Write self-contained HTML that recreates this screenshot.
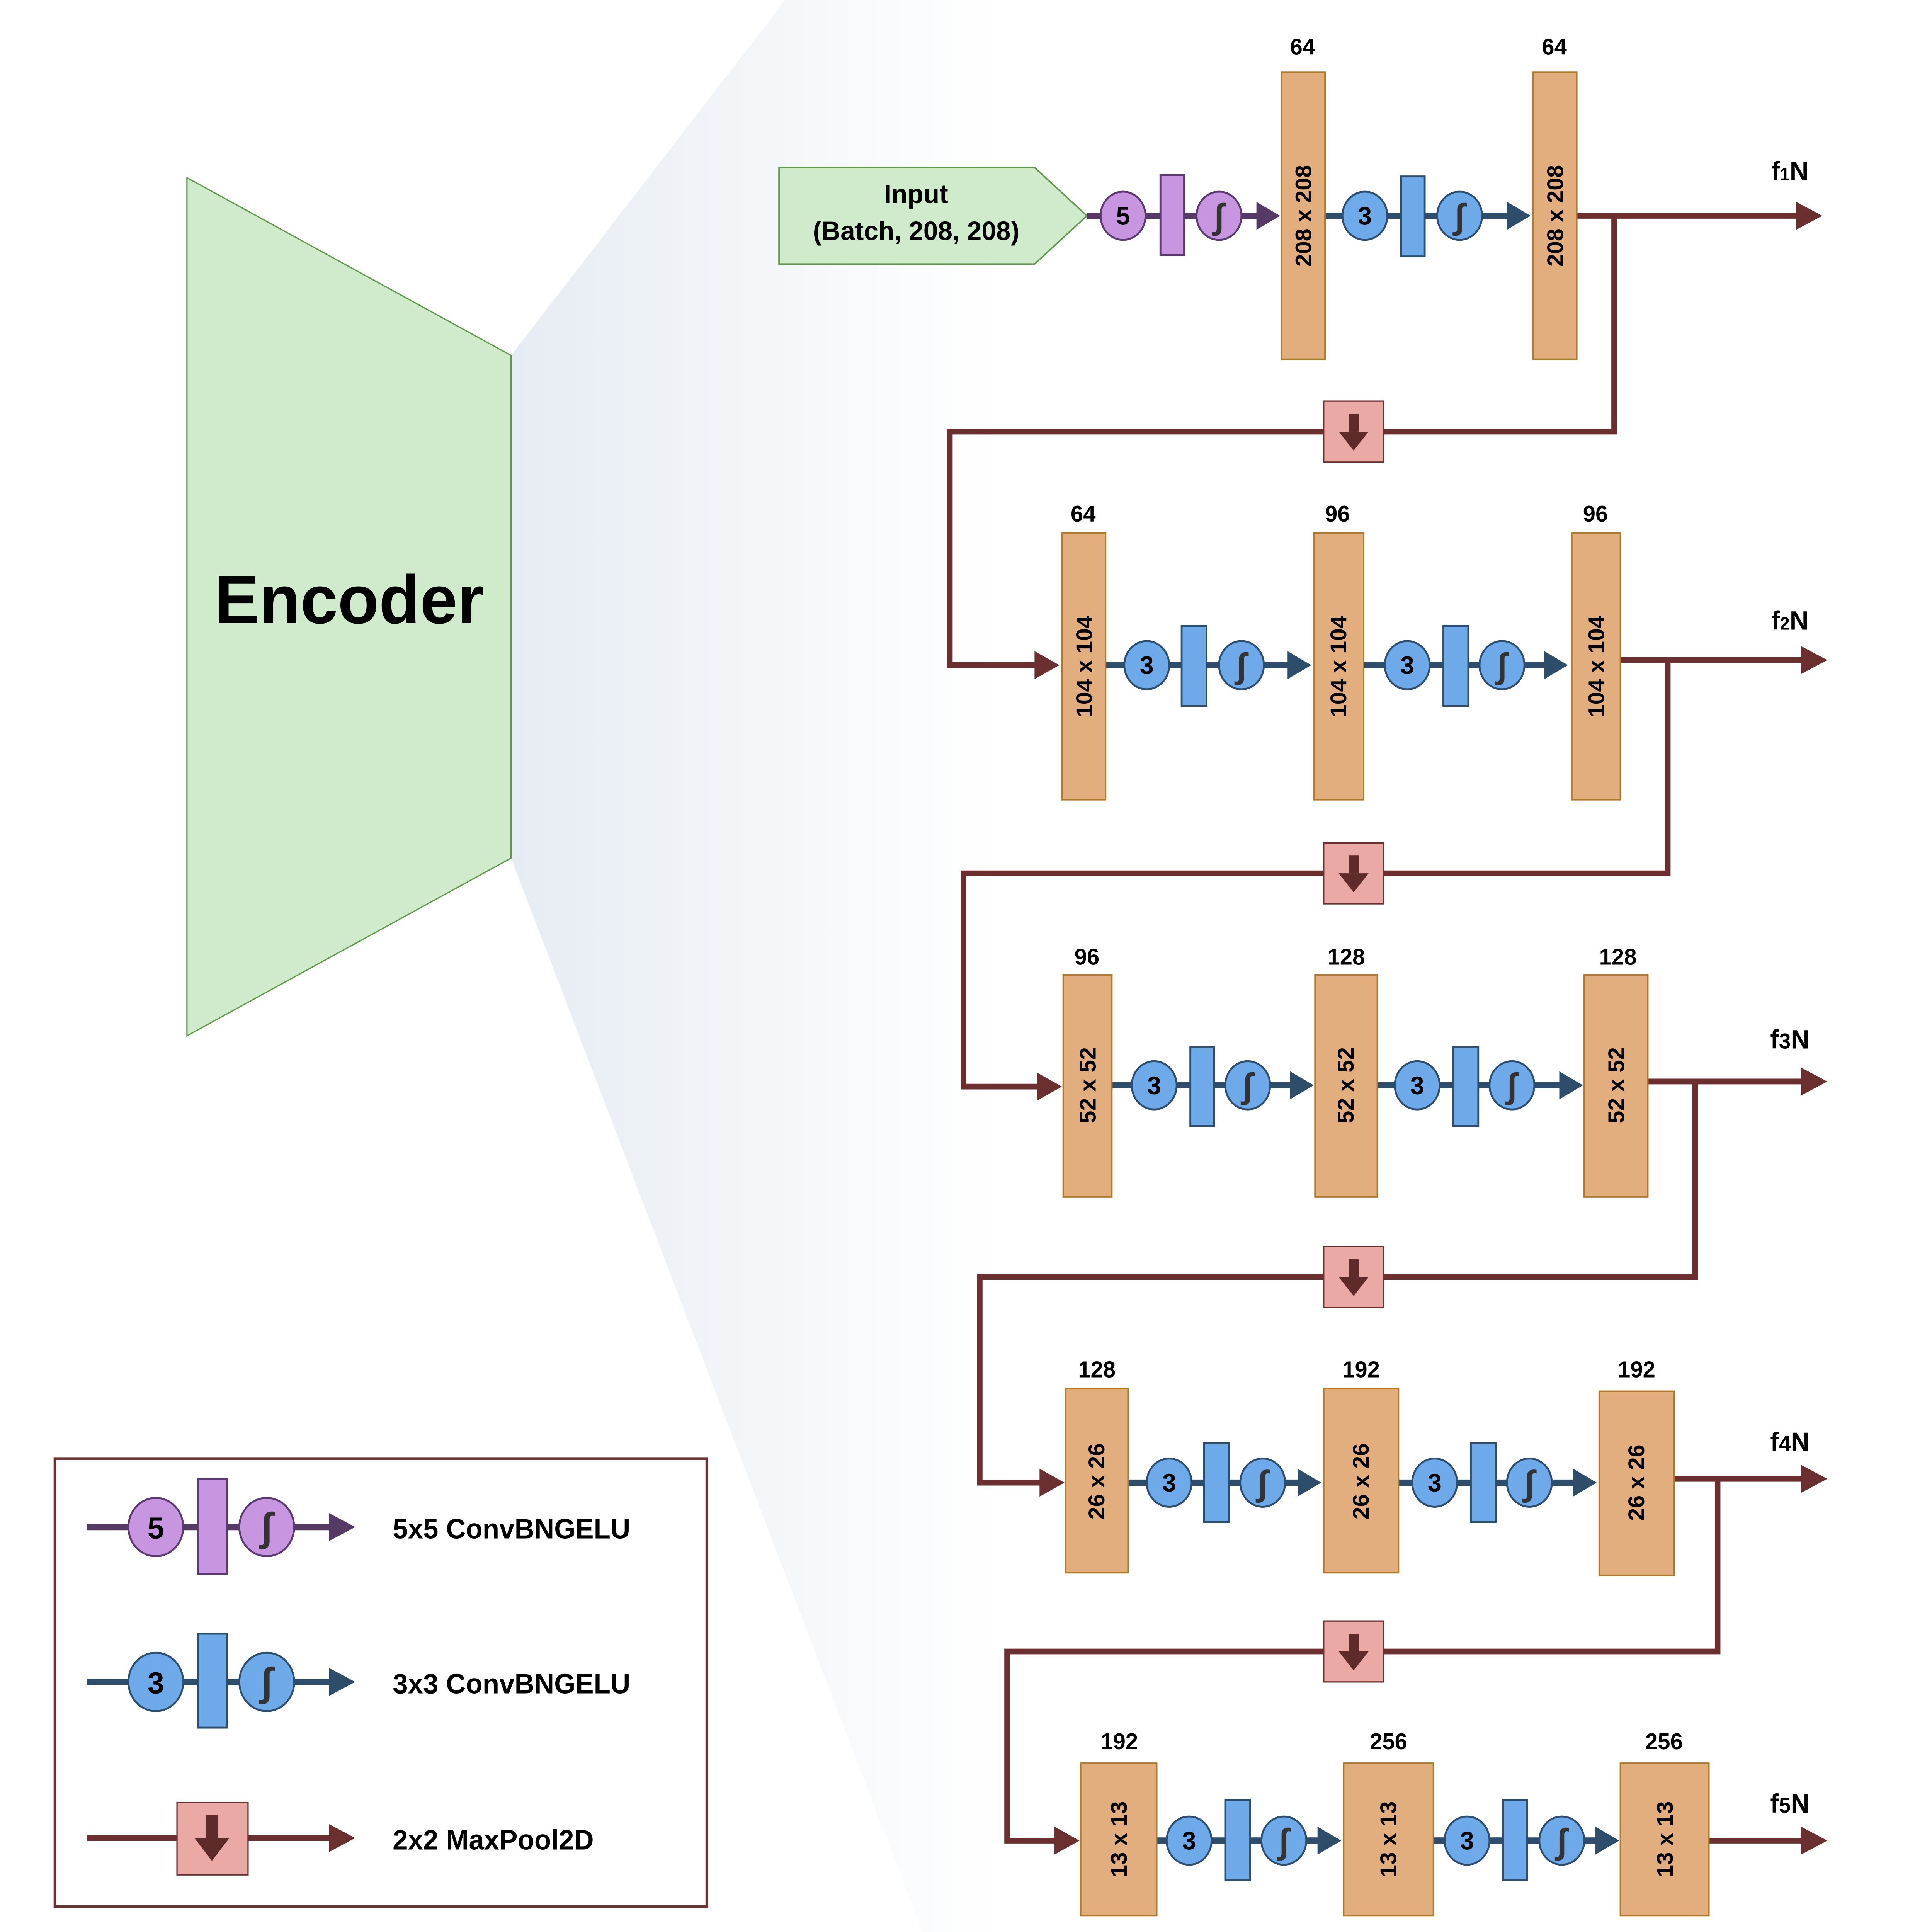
<!DOCTYPE html>
<html><head><meta charset="utf-8"><style>
html,body{margin:0;padding:0;background:#fff;width:100%;height:100%;overflow:hidden}
svg{display:block;width:100vw;height:100vh}
text{font-family:"Liberation Sans",Arial,sans-serif;font-weight:bold;fill:#000}
</style></head><body>
<svg viewBox="0 0 1550 1522" preserveAspectRatio="none" xmlns="http://www.w3.org/2000/svg">
<defs>
<linearGradient id="g" x1="410" y1="0" x2="800" y2="0" gradientUnits="userSpaceOnUse">
<stop offset="0" stop-color="#e6ecf3"/><stop offset="0.5" stop-color="#f3f6f9"/><stop offset="1" stop-color="#ffffff"/>
</linearGradient>
</defs>
<rect width="1550" height="1522" fill="#fff"/>
<polygon points="410,280 630,0 950,0 950,1522 740,1522 410,676" fill="url(#g)"/>
<polygon points="150,140 410,280 410,676 150,816" fill="#d0ebcc" stroke="#5f9a4a" stroke-width="1"/>
<text x="280" y="491" font-size="54" text-anchor="middle">Encoder</text>

<polygon points="625,132 830,132 872,170 830,208 625,208" fill="#d0ebcc" stroke="#5f9a4a" stroke-width="1.2"/>
<text x="735" y="160" font-size="21" text-anchor="middle">Input</text>
<text x="735" y="189" font-size="21" text-anchor="middle">(Batch, 208, 208)</text>

<g stroke-width="5" fill="none">
<g stroke="#6b2f2f" stroke-width="4.5">
<polyline points="1265,170 1444,170"/>
<polyline points="1295,170 1295,340 762,340 762,524 834,524"/>
<polyline points="1300,520 1448,520"/>
<polyline points="1338,520 1338,688 773,688 773,856 834,856"/>
<polyline points="1322,852 1448,852"/>
<polyline points="1360,852 1360,1006 786,1006 786,1168 836,1168"/>
<polyline points="1343,1165 1448,1165"/>
<polyline points="1378,1165 1378,1301 808,1301 808,1450 848,1450"/>
<polyline points="1371,1450 1448,1450"/>
<polyline points="70,1448 267,1448"/>
</g>
<g stroke="#553a66"><line x1="872" y1="170" x2="1010" y2="170"/><line x1="70" y1="1203" x2="267" y2="1203"/></g>
<g stroke="#2d4d6a">
<line x1="1063" y1="170" x2="1210" y2="170"/>
<line x1="887" y1="524" x2="1034" y2="524"/><line x1="1094" y1="524" x2="1240" y2="524"/>
<line x1="892" y1="855" x2="1036" y2="855"/><line x1="1105" y1="855" x2="1252" y2="855"/>
<line x1="905" y1="1168" x2="1042" y2="1168"/><line x1="1122" y1="1168" x2="1263" y2="1168"/>
<line x1="928" y1="1450" x2="1058" y2="1450"/><line x1="1150" y1="1450" x2="1281" y2="1450"/>
<line x1="70" y1="1325" x2="267" y2="1325"/>
</g>
</g>
<g fill="#6b2f2f">
<polygon points="1462,170 1441,159 1441,181"/>
<polygon points="850,524 830,513 830,535"/>
<polygon points="1466,520 1445,509 1445,531"/>
<polygon points="852,856 832,845 832,867"/>
<polygon points="1466,852 1445,841 1445,863"/>
<polygon points="854,1168 834,1157 834,1179"/>
<polygon points="1466,1165 1445,1154 1445,1176"/>
<polygon points="866,1450 846,1439 846,1461"/>
<polygon points="1466,1450 1445,1439 1445,1461"/>
<polygon points="285,1448 264,1437 264,1459"/>
</g>
<g>
<g transform="translate(1086,340)"><rect x="-24" y="-24" width="48" height="48" fill="#eba9a6" stroke="#6b2f2f" stroke-width="1"/><rect x="-4" y="-14" width="8" height="14" fill="#5e2a2a"/><polygon points="-12,0 12,0 0,15" fill="#5e2a2a"/></g>
<g transform="translate(1086,688)"><rect x="-24" y="-24" width="48" height="48" fill="#eba9a6" stroke="#6b2f2f" stroke-width="1"/><rect x="-4" y="-14" width="8" height="14" fill="#5e2a2a"/><polygon points="-12,0 12,0 0,15" fill="#5e2a2a"/></g>
<g transform="translate(1086,1006)"><rect x="-24" y="-24" width="48" height="48" fill="#eba9a6" stroke="#6b2f2f" stroke-width="1"/><rect x="-4" y="-14" width="8" height="14" fill="#5e2a2a"/><polygon points="-12,0 12,0 0,15" fill="#5e2a2a"/></g>
<g transform="translate(1086,1301)"><rect x="-24" y="-24" width="48" height="48" fill="#eba9a6" stroke="#6b2f2f" stroke-width="1"/><rect x="-4" y="-14" width="8" height="14" fill="#5e2a2a"/><polygon points="-12,0 12,0 0,15" fill="#5e2a2a"/></g>
<g transform="translate(170,1448)"><rect x="-28" y="-28" width="57" height="57" fill="#eba9a6" stroke="#6b2f2f" stroke-width="1"/><rect x="-5" y="-18" width="10" height="18" fill="#5e2a2a"/><polygon points="-14,0 14,0 0,18" fill="#5e2a2a"/></g>
</g>

<g stroke="#5a3a70" stroke-width="1.5" fill="#c895e0">
<ellipse cx="901" cy="170" rx="18" ry="19"/>
<rect x="931" y="138" width="19" height="63"/>
<ellipse cx="978" cy="170" rx="18" ry="19"/>
<ellipse cx="125" cy="1203" rx="22" ry="23"/>
<rect x="159" y="1165" width="23" height="75"/>
<ellipse cx="214" cy="1203" rx="22" ry="23"/>
</g>
<g fill="#553a66"><polygon points="1027,170 1008,159 1008,181"/><polygon points="285,1203 264,1192 264,1214"/></g>

<g stroke="#2d4e6e" stroke-width="1.5" fill="#6eaaea">
<ellipse cx="1095" cy="170" rx="18" ry="19"/><rect x="1124" y="139" width="19" height="63"/><ellipse cx="1171" cy="170" rx="18" ry="19"/>
<ellipse cx="920" cy="524" rx="18" ry="19"/><rect x="948" y="493" width="20" height="63"/><ellipse cx="996" cy="524" rx="18" ry="19"/>
<ellipse cx="1129" cy="524" rx="18" ry="19"/><rect x="1158" y="493" width="20" height="63"/><ellipse cx="1205" cy="524" rx="18" ry="19"/>
<ellipse cx="926" cy="855" rx="18" ry="19"/><rect x="955" y="825" width="19" height="62"/><ellipse cx="1001" cy="855" rx="18" ry="19"/>
<ellipse cx="1137" cy="855" rx="18" ry="19"/><rect x="1166" y="825" width="20" height="62"/><ellipse cx="1213" cy="855" rx="18" ry="19"/>
<ellipse cx="938" cy="1168" rx="18" ry="19"/><rect x="966" y="1137" width="20" height="62"/><ellipse cx="1013" cy="1168" rx="18" ry="19"/>
<ellipse cx="1151" cy="1168" rx="18" ry="19"/><rect x="1180" y="1137" width="20" height="62"/><ellipse cx="1227" cy="1168" rx="18" ry="19"/>
<ellipse cx="954" cy="1450" rx="18" ry="19"/><rect x="983" y="1418" width="20" height="63"/><ellipse cx="1030" cy="1450" rx="18" ry="19"/>
<ellipse cx="1177" cy="1450" rx="18" ry="19"/><rect x="1206" y="1418" width="19" height="63"/><ellipse cx="1253" cy="1450" rx="18" ry="19"/>
<ellipse cx="125" cy="1325" rx="22" ry="23"/><rect x="159" y="1287" width="23" height="74"/><ellipse cx="214" cy="1325" rx="22" ry="23"/>
</g>
<g fill="#2d4d6a">
<polygon points="1228,170 1209,159 1209,181"/>
<polygon points="1052,524 1033,513 1033,535"/><polygon points="1258,524 1239,513 1239,535"/>
<polygon points="1054,855 1035,844 1035,866"/><polygon points="1270,855 1251,844 1251,866"/>
<polygon points="1060,1168 1041,1157 1041,1179"/><polygon points="1281,1168 1262,1157 1262,1179"/>
<polygon points="1076,1450 1057,1439 1057,1461"/><polygon points="1299,1450 1280,1439 1280,1461"/>
<polygon points="285,1325 264,1314 264,1336"/>
</g>

<g font-size="20" text-anchor="middle">
<text x="901" y="177">5</text>
<text x="1095" y="177">3</text>
<text x="920" y="531">3</text><text x="1129" y="531">3</text>
<text x="926" y="862">3</text><text x="1137" y="862">3</text>
<text x="938" y="1175">3</text><text x="1151" y="1175">3</text>
<text x="954" y="1457">3</text><text x="1177" y="1457">3</text>
<text x="125" y="1212" font-size="24">5</text>
<text x="125" y="1334" font-size="24">3</text>
</g>
<g font-size="28" text-anchor="middle" font-style="italic" font-weight="normal" font-family="DejaVu Serif, serif">
<text x="978" y="180" style="fill:#333">∫</text><text x="1171" y="180" style="fill:#333">∫</text>
<text x="996" y="534" style="fill:#333">∫</text><text x="1205" y="534" style="fill:#333">∫</text>
<text x="1001" y="865" style="fill:#333">∫</text><text x="1213" y="865" style="fill:#333">∫</text>
<text x="1013" y="1178" style="fill:#333">∫</text><text x="1227" y="1178" style="fill:#333">∫</text>
<text x="1030" y="1460" style="fill:#333">∫</text><text x="1253" y="1460" style="fill:#333">∫</text>
<text x="214" y="1214" font-size="32" style="fill:#333">∫</text><text x="214" y="1336" font-size="32" style="fill:#333">∫</text>
</g>

<g fill="#e2ae7e" stroke="#b07a2a" stroke-width="1.2">
<rect x="1028" y="57" width="35" height="226"/><rect x="1230" y="57" width="35" height="226"/>
<rect x="852" y="420" width="35" height="210"/><rect x="1054" y="420" width="40" height="210"/><rect x="1261" y="420" width="39" height="210"/>
<rect x="853" y="768" width="39" height="175"/><rect x="1055" y="768" width="50" height="175"/><rect x="1271" y="768" width="51" height="175"/>
<rect x="855" y="1094" width="50" height="145"/><rect x="1062" y="1094" width="60" height="145"/><rect x="1283" y="1096" width="60" height="145"/>
<rect x="867" y="1389" width="61" height="120"/><rect x="1078" y="1389" width="72" height="120"/><rect x="1300" y="1389" width="71" height="120"/>
</g>
<g font-size="18" text-anchor="middle" dominant-baseline="central">
<text transform="translate(1046,170) rotate(-90)">208 x 208</text>
<text transform="translate(1248,170) rotate(-90)">208 x 208</text>
<text transform="translate(870,525) rotate(-90)">104 x 104</text>
<text transform="translate(1074,525) rotate(-90)">104 x 104</text>
<text transform="translate(1281,525) rotate(-90)">104 x 104</text>
<text transform="translate(873,855) rotate(-90)">52 x 52</text>
<text transform="translate(1080,855) rotate(-90)">52 x 52</text>
<text transform="translate(1297,855) rotate(-90)">52 x 52</text>
<text transform="translate(880,1167) rotate(-90)">26 x 26</text>
<text transform="translate(1092,1167) rotate(-90)">26 x 26</text>
<text transform="translate(1313,1168) rotate(-90)">26 x 26</text>
<text transform="translate(898,1449) rotate(-90)">13 x 13</text>
<text transform="translate(1114,1449) rotate(-90)">13 x 13</text>
<text transform="translate(1336,1449) rotate(-90)">13 x 13</text>
</g>
<g font-size="18" text-anchor="middle">
<text x="1045" y="43">64</text><text x="1247" y="43">64</text>
<text x="869" y="411">64</text><text x="1073" y="411">96</text><text x="1280" y="411">96</text>
<text x="872" y="760">96</text><text x="1080" y="760">128</text><text x="1298" y="760">128</text>
<text x="880" y="1085">128</text><text x="1092" y="1085">192</text><text x="1313" y="1085">192</text>
<text x="898" y="1378">192</text><text x="1114" y="1378">256</text><text x="1335" y="1378">256</text>
</g>
<g font-size="21" text-anchor="middle">
<text x="1436" y="142">f<tspan font-size="14">1</tspan>N</text>
<text x="1436" y="496">f<tspan font-size="14">2</tspan>N</text>
<text x="1436" y="826">f<tspan font-size="17">3</tspan>N</text>
<text x="1436" y="1143">f<tspan font-size="17">4</tspan>N</text>
<text x="1436" y="1428">f<tspan font-size="17">5</tspan>N</text>
</g>

<rect x="44" y="1149" width="523" height="353" fill="none" stroke="#6b2f2f" stroke-width="2"/>
<g font-size="22">
<text x="315" y="1212">5x5 ConvBNGELU</text>
<text x="315" y="1334">3x3 ConvBNGELU</text>
<text x="315" y="1457">2x2 MaxPool2D</text>
</g>
</svg>
</body></html>
